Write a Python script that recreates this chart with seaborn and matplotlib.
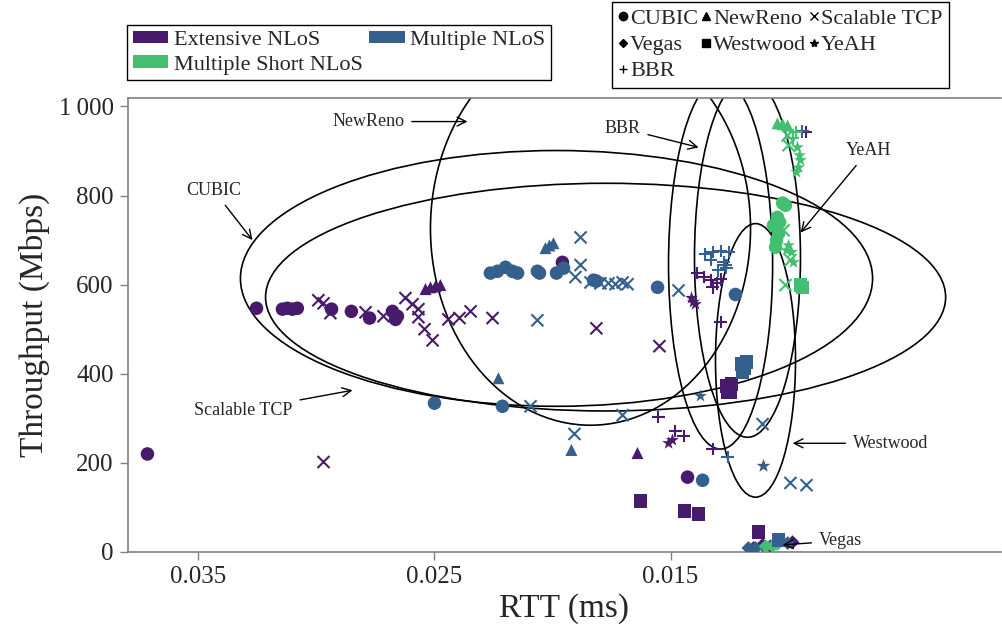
import matplotlib
matplotlib.use("Agg")
import matplotlib.pyplot as plt
from matplotlib.patches import Ellipse, Patch
from matplotlib.lines import Line2D
import seaborn as sns
import pandas as pd

# ---------------- data (RTT, throughput) ----------------
scenarios = ["Extensive NLoS", "Multiple NLoS", "Multiple Short NLoS"]
protocols = ["CUBIC", "NewReno", "Scalable TCP", "Vegas", "Westwood", "YeAH", "BBR"]

ext_cubic = [(0.03716, 220), (0.03254, 547), (0.03144, 545), (0.03123, 547), (0.03102, 545),
             (0.03081, 547), (0.02936, 545), (0.02852, 540), (0.02775, 525), (0.02678, 540),
             (0.02657, 529), (0.02665, 522), (0.01958, 650), (0.01428, 168)]
ext_newreno = [(0.02538, 590), (0.02517, 594), (0.02496, 596), (0.02475, 599), (0.01640, 222)]
ext_scalable = [(0.02992, 565), (0.02970, 558), (0.02941, 536), (0.02792, 538), (0.02716, 529),
                (0.02623, 570), (0.02593, 556), (0.02568, 545), (0.02568, 527), (0.02542, 500),
                (0.02508, 475), (0.02441, 522), (0.02394, 525), (0.02347, 540), (0.02254, 525),
                (0.01814, 502), (0.01547, 462), (0.02970, 202)]
ext_vegas = [(0.01110, 16), (0.00983, 22), (0.01076, 13), (0.01148, 9)]
ext_westwood = [(0.01627, 114), (0.01441, 92), (0.01381, 85), (0.01127, 45), (0.01263, 372),
                (0.01250, 365), (0.01242, 377), (0.01259, 359), (0.01246, 359)]
ext_yeah = [(0.01403, 561), (0.01411, 570), (0.01394, 556), (0.01106, 193), (0.01508, 244),
            (0.01492, 251)]
ext_bbr = [(0.01386, 626), (0.01360, 617), (0.01330, 610), (0.01305, 603), (0.01288, 612),
           (0.01322, 594), (0.01288, 516), (0.01551, 303), (0.01479, 271), (0.01445, 260),
           (0.01322, 231), (0.00928, 942)]

mul_cubic = [(0.02500, 334), (0.02212, 327), (0.02263, 626), (0.02233, 630), (0.02199, 639),
             (0.02170, 630), (0.02148, 626), (0.02064, 630), (0.02055, 626), (0.01983, 626),
             (0.01953, 637), (0.01826, 610), (0.01814, 608), (0.01555, 594), (0.01364, 161),
             (0.01225, 578)]
mul_newreno = [(0.02030, 682), (0.02013, 688), (0.01996, 693), (0.02229, 390), (0.01920, 229)]
mul_scalable = [(0.02064, 520), (0.02093, 327), (0.01907, 265), (0.01703, 307), (0.01881, 644),
                (0.01903, 617), (0.01881, 706), (0.01839, 605), (0.01797, 603), (0.01763, 603),
                (0.01733, 601), (0.01703, 605), (0.01682, 601), (0.01466, 587), (0.01110, 287),
                (0.00992, 155), (0.00924, 150)]
mul_vegas = [(0.01170, 9), (0.01140, 9), (0.01004, 20)]
mul_westwood = [(0.01200, 422), (0.01186, 413), (0.01195, 404), (0.01178, 426), (0.01042, 27)]
mul_yeah = [(0.01373, 350), (0.01106, 193)]
mul_bbr = [(0.01352, 668), (0.01322, 673), (0.01288, 675), (0.01254, 673), (0.01330, 655),
           (0.01275, 650), (0.01267, 644), (0.01297, 632), (0.01263, 637), (0.01258, 213),
           (0.00941, 944)]

sho_cubic = [(0.01025, 783), (0.01013, 778), (0.01047, 751), (0.01064, 733), (0.01042, 715),
             (0.01055, 684), (0.01051, 700), (0.01038, 740)]
sho_newreno = [(0.01047, 962), (0.01025, 960), (0.01004, 957)]
sho_scalable = [(0.01004, 935), (0.01000, 913), (0.01021, 722), (0.01013, 599), (0.00992, 655)]
sho_vegas = [(0.01097, 13), (0.01068, 13), (0.01047, 18)]
sho_westwood = [(0.00949, 599), (0.00941, 594)]
sho_yeah = [(0.00962, 908), (0.00953, 890), (0.00949, 879), (0.00958, 863), (0.00966, 852),
            (0.01000, 688), (0.00987, 673), (0.00979, 650), (0.01008, 677)]
sho_bbr = [(0.00983, 928), (0.00970, 942)]

# ellipses: centre RTT, centre throughput, width (RTT), height (throughput)
ellipse_names = ["CUBIC", "Scalable TCP", "NewReno", "BBR", "YeAH", "Westwood"]
ellipse_cx = [0.01983, 0.01775, 0.01839, 0.01288, 0.01174, 0.01140]
ellipse_cy = [614, 572, 726, 646, 661, 430]
ellipse_w = [0.02678, 0.02881, 0.01356, 0.00441, 0.00449, 0.00339]
ellipse_h = [574, 511, 883, 830, 807, 614]

# annotation labels: name, text position, arrow tip
ann_names = ["NewReno", "CUBIC", "Scalable TCP", "BBR", "YeAH", "Westwood", "Vegas"]
ann_text = [(0.0278, 966), (0.03436, 812), (0.03309, 318), (0.01703, 951),
            (0.00661, 901), (0.00568, 244), (0.00780, 25)]
ann_tip = [(0.0236, 966), (0.03271, 700), (0.02847, 363), (0.01381, 908),
           (0.00949, 717), (0.00983, 244), (0.01025, 16)]

# ---------------- build table ----------------
groups = {
    "Extensive NLoS": [ext_cubic, ext_newreno, ext_scalable, ext_vegas, ext_westwood, ext_yeah, ext_bbr],
    "Multiple NLoS": [mul_cubic, mul_newreno, mul_scalable, mul_vegas, mul_westwood, mul_yeah, mul_bbr],
    "Multiple Short NLoS": [sho_cubic, sho_newreno, sho_scalable, sho_vegas, sho_westwood, sho_yeah, sho_bbr],
}
rows = []
for sc, lists in groups.items():
    for proto, pts in zip(protocols, lists):
        for r, t in pts:
            rows.append(dict(rtt=r, tput=t, scenario=sc, protocol=proto))
df = pd.DataFrame(rows)

# ---------------- style ----------------
sns.set_style("ticks")
plt.rcParams["font.family"] = ["Liberation Serif", "DejaVu Serif"]

palette = {"Extensive NLoS": "#481a6c", "Multiple NLoS": "#35608d", "Multiple Short NLoS": "#43bf71"}
markers = {"CUBIC": "o", "NewReno": "^", "Scalable TCP": "x", "Vegas": "D",
           "Westwood": "s", "YeAH": "*", "BBR": "+"}
sizes = {"CUBIC": 95, "NewReno": 75, "Scalable TCP": 75, "Vegas": 50,
         "Westwood": 95, "YeAH": 95, "BBR": 80}

fig = plt.figure(figsize=(10.03, 6.3), dpi=100)
ax = fig.add_axes([127.6 / 1003, 78 / 630, (1001 - 127.6) / 1003, (552 - 97.5) / 630])

for proto in protocols:
    sub = df[df["protocol"] == proto]
    m = markers[proto]
    if m in ("x", "+"):
        sns.scatterplot(data=sub, x="rtt", y="tput", hue="scenario", palette=palette,
                        hue_order=scenarios, marker=m, s=sizes[proto], linewidth=1.5,
                        legend=False, ax=ax, zorder=3)
    else:
        sns.scatterplot(data=sub, x="rtt", y="tput", hue="scenario", palette=palette,
                        hue_order=scenarios, marker=m, s=sizes[proto], linewidth=0,
                        edgecolor="none", legend=False, ax=ax, zorder=3)

for cx, cy, w, h in zip(ellipse_cx, ellipse_cy, ellipse_w, ellipse_h):
    ax.add_patch(Ellipse((cx, cy), w, h, fill=False, edgecolor="black", lw=1.2, zorder=2))

for name, tp, tip in zip(ann_names, ann_text, ann_tip):
    ax.annotate(name, xy=tip, xytext=tp, ha="center", va="center", fontsize=13,
                arrowprops=dict(arrowstyle="->", color="black", lw=1.0, mutation_scale=16,
                                shrinkA=3, shrinkB=0), zorder=4)

ax.set_xlim(0.038, 0.001)
ax.set_ylim(0, 1020)
ax.set_xticks([0.035, 0.025, 0.015])
ax.set_xticklabels(["0.035", "0.025", "0.015"])
ax.set_yticks([0, 200, 400, 600, 800, 1000])
ax.set_yticklabels(["0", "200", "400", "600", "800", "1\u2009000"])
ax.set_xlabel("RTT (ms)", fontsize=24, labelpad=4)
ax.set_ylabel("Throughput (Mbps)", fontsize=24, labelpad=6)
ax.tick_params(axis="both", direction="out", length=6, width=1, color="#808080",
               labelsize=18, pad=4)
for side in ["left", "bottom", "top"]:
    ax.spines[side].set_color("#808080")
    ax.spines[side].set_linewidth(1.2)
ax.spines["right"].set_visible(False)

# legends (handles ordered so that entries read row by row)
leg1_order = ["Extensive NLoS", "Multiple Short NLoS", "Multiple NLoS"]
h1 = [Patch(facecolor=palette[s], edgecolor="none", label=s) for s in leg1_order]
leg1 = fig.legend(handles=h1, loc="upper left", bbox_to_anchor=(127 / 1003, 1 - 25 / 630),
                  ncol=2, fontsize=16, frameon=True, fancybox=False, framealpha=1,
                  edgecolor="black", handlelength=1.6, handleheight=0.5, handletextpad=0.25,
                  columnspacing=0.3, labelspacing=0.25, borderpad=0.25, borderaxespad=0)
leg1.get_frame().set_linewidth(1.0)

leg2_order = ["CUBIC", "Vegas", "BBR", "NewReno", "Westwood", "Scalable TCP", "YeAH"]
h2 = [Line2D([], [], linestyle="none", marker=markers[p], color="black",
             markersize=4.5 if markers[p] == "D" else 6, markeredgewidth=1.0, label=p)
      for p in leg2_order]
leg2 = fig.legend(handles=h2, loc="upper left", bbox_to_anchor=(612 / 1003, 1 - 2 / 630),
                  ncol=3, fontsize=16, frameon=True, fancybox=False, framealpha=1,
                  edgecolor="black", handlelength=0.4, handletextpad=0.12,
                  columnspacing=0.15, labelspacing=0.25, borderpad=0.3, borderaxespad=0)
leg2.get_frame().set_linewidth(1.0)

fig.savefig("out.png", dpi=100)
